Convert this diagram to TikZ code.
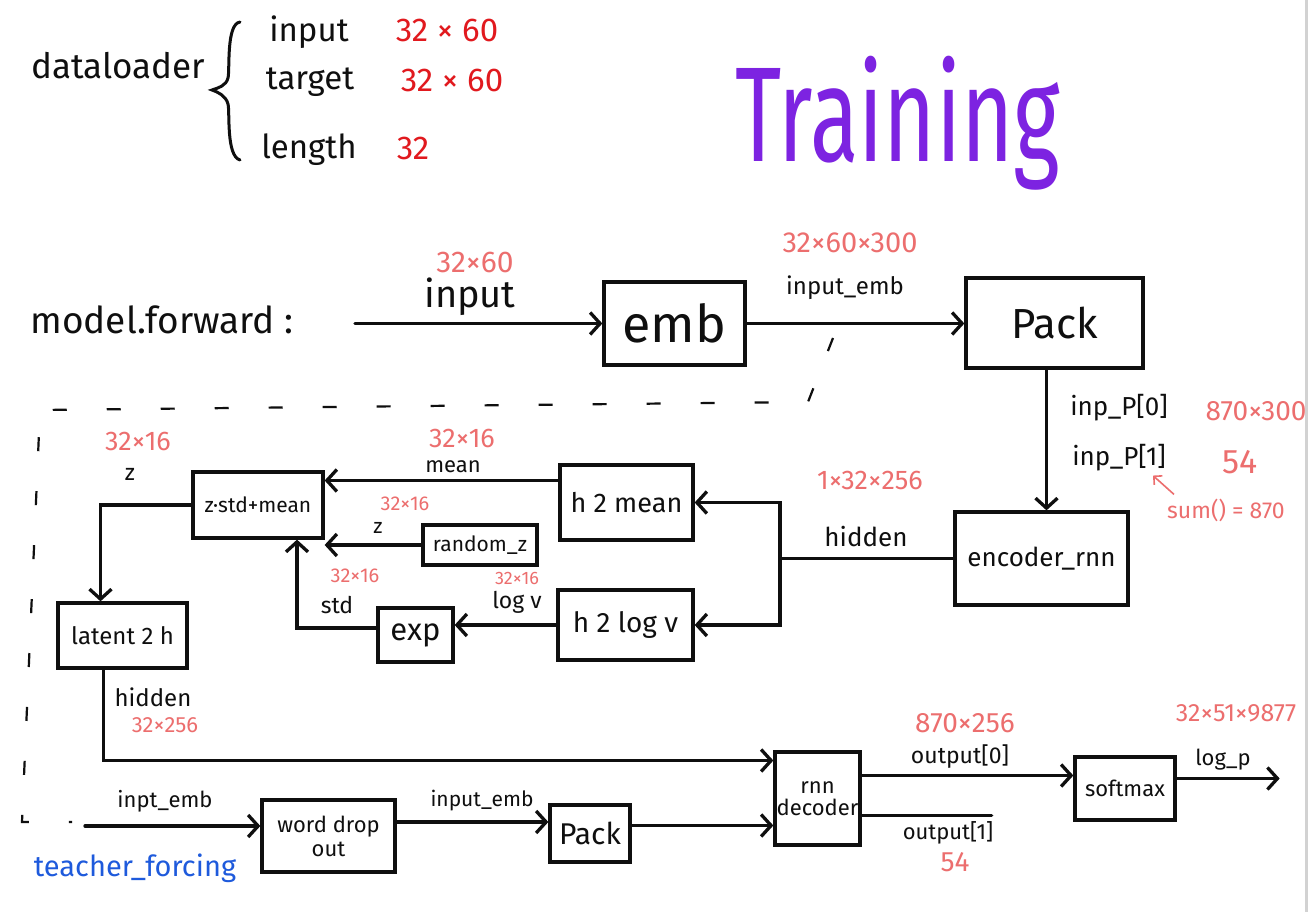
\documentclass[tikz,border=0pt]{standalone}
\usepackage{fontspec}
\setmainfont{Fira Sans}
\usetikzlibrary{arrows.meta}
\definecolor{ink}{RGB}{15,15,15}
\definecolor{dred}{RGB}{225,25,30}
\definecolor{pink}{RGB}{236,110,110}
\definecolor{tfblue}{RGB}{30,90,220}
\definecolor{trpurple}{RGB}{125,35,225}
\newcommand\fsz[1]{\fontsize{#1}{#1}\selectfont}
\tikzset{
  box/.style={draw=ink, line width=3.3pt, inner sep=0pt, align=center, text=ink},
  arr/.style={draw=ink, line width=3.3pt, line cap=round, -{Straight Barb[length=10pt,width=22pt,line width=3.3pt]}},
  ln/.style={draw=ink, line width=3.3pt, line cap=round},
  lab/.style={text=ink, inner sep=0pt},
  rlab/.style={text=pink, inner sep=0pt},
  boundary/.style={draw=ink, line width=2.2pt, dash pattern=on 14pt off 40pt}
}
\begin{document}
\begin{tikzpicture}[x=1pt,y=-1pt]
\fill[white] (0,0) rectangle (1312,912);
\useasboundingbox (0,0) rectangle (1312,912);
\draw[gray!35, line width=3pt] (1306,0) -- (1306,912);

% dataloader
\node[lab] (dl) at (118,66) {\fsz{35}dataloader};
\draw[ln, line width=3pt] (240,22) .. controls (226,24) and (230,70) .. (228,78) .. controls (226,86) and (218,88) .. (212,90)
  .. controls (218,92) and (226,96) .. (228,104) .. controls (230,112) and (226,156) .. (240,160);
\node[lab] (dlin) at (309,32) {\fsz{33}input};
\node[lab] (dlta) at (310,82) {\fsz{33}target};
\node[lab] (dlle) at (309,150) {\fsz{33}length};
\node[text=dred, inner sep=0pt] (dlin2) at (447,30) {\fsz{33}32 × 60};
\node[text=dred, inner sep=0pt] (dlta2) at (452,80) {\fsz{33}32 × 60};
\node[text=dred, inner sep=0pt] (dlle2) at (413,148) {\fsz{33}32};

% title
\node[text=trpurple, inner sep=0pt, anchor=north west] (title) at (735,56) {\resizebox*{325pt}{134pt}{Training}};

% model.forward
\node[lab] (mf) at (162,320) {\fsz{37}model.forward :};

% boxes
\node[box, minimum width=141pt, minimum height=83pt] (emb) at (674.5,323.5) {\fsz{52}emb};
\node[box, minimum width=177pt, minimum height=90pt] (pack) at (1054.5,323) {\fsz{42}Pack};
\node[box, minimum width=173pt, minimum height=93pt] (enc) at (1041.5,558.5) {\fsz{26}encoder\_rnn};
\node[box, minimum width=133pt, minimum height=75pt] (h2m) at (626.5,502.5) {\fsz{27}h 2 mean};
\node[box, minimum width=135pt, minimum height=70pt] (h2v) at (625.5,625) {\fsz{28}h 2 log v};
\node[box, minimum width=114pt, minimum height=40pt] (rz) at (480,545) {\fsz{21}random\_z};
\node[box, minimum width=130pt, minimum height=66pt] (zs) at (258,505) {\fsz{21}z·std+mean};
\node[box, minimum width=75pt, minimum height=54pt] (exp) at (415.5,635) {\fsz{31}exp};
\node[box, minimum width=129pt, minimum height=65pt] (lat) at (122.5,635.5) {\fsz{24}latent 2 h};
\node[box, minimum width=85pt, minimum height=93pt] (rnn) at (817.5,798.5) {\fsz{22}rnn\\[4pt]\fsz{22}decoder};
\node[box, minimum width=133pt, minimum height=72pt] (wdo) at (328.5,836) {\fsz{22}word drop\\[4pt]\fsz{22}out};
\node[box, minimum width=80pt, minimum height=57pt] (pk2) at (590,833.5) {\fsz{30}Pack};
\node[box, minimum width=100pt, minimum height=63pt] (sm) at (1125,788.5) {\fsz{22}softmax};

% input -> emb
\coordinate (inS) at (355,323.5);
\draw[arr] (inS) -- (emb.west);
\node[lab] (inL) at (470,297) {\fsz{38}input};
\node[rlab] (inR) at (475,262) {\fsz{30}32×60};

% emb -> pack
\draw[arr] (emb.east) -- (emb.east -| pack.west);
\node[lab] (ieL) at (845,288) {\fsz{24}input\_emb};
\node[rlab] (ieR) at (850,243) {\fsz{29}32×60×300};

% pack -> encoder
\draw[arr] ([xshift=-8pt]pack.south) -- ([xshift=-8pt]pack.south |- enc.north);
\node[lab] (ip0) at (1119,408) {\fsz{26}inp\_P[0]};
\node[rlab] (ip0R) at (1256,411) {\fsz{28}870×300};
\node[lab] (ip1) at (1119,458) {\fsz{26}inp\_P[1]};
\node[rlab] (ip1R) at (1240,462) {\fsz{34}54};
\node[rlab] (sum) at (1226,510) {\fsz{23}sum() = 870};
\draw[draw=pink, line width=1.6pt, -{Straight Barb[length=6pt,width=12pt,line width=1.6pt]}] ([xshift=-52pt,yshift=4pt]sum.north) -- ([xshift=34pt,yshift=-4pt]ip1.south);

% encoder -> h2mean / h2logv
\coordinate (split) at (780,558.5);
\draw[ln] (enc.west) -- (split);
\draw[arr] (split) |- (h2m.east);
\draw[arr] (split) |- (h2v.east);
\node[lab] (hidL) at (866,537) {\fsz{26}hidden};
\node[rlab] (hidR) at (870,480) {\fsz{27}1×32×256};

% h2mean -> zstd
\draw[arr] ([yshift=22pt]h2m.west) coordinate (m1) -- (m1 -| zs.east);
\node[lab] (meanL) at (453,467) {\fsz{22}mean};
\node[rlab] (meanR) at (462,438) {\fsz{27}32×16};

% random_z -> zstd
\draw[arr] (rz.west) -- (rz.west -| zs.east);
\node[lab] (zL) at (378,528) {\fsz{21}z};
\node[rlab] (zR) at (405,504) {\fsz{20}32×16};

% h2logv -> exp
\draw[arr] (h2v.west) -- (h2v.west -| exp.east);
\node[lab] (lvL) at (517,602) {\fsz{23}log v};
\node[rlab] (lvR) at (517,578) {\fsz{18}32×16};

% exp -> zstd
\draw[arr] ([yshift=7pt]exp.west) -| ([xshift=39pt]zs.south);
\node[lab] (stdL) at (337,605) {\fsz{23}std};
\node[rlab] (stdR) at (355,576) {\fsz{20}32×16};

% zstd -> latent2h
\draw[arr] (zs.west) -| ([xshift=-22pt]lat.north);
\node[lab] (z2L) at (130,474) {\fsz{23}z};
\node[rlab] (z2R) at (138,441) {\fsz{27}32×16};

% latent2h -> rnn decoder
\draw[arr] ([xshift=-19pt]lat.south) |- ([yshift=38pt]rnn.west);
\node[lab] (h2L) at (153,697) {\fsz{24}hidden};
\node[rlab] (h2R) at (165,725) {\fsz{22}32×256};

% teacher forcing input
\coordinate (tfS) at (85,826);
\draw[arr] (tfS) -- (tfS -| wdo.west);
\node[lab] (tfL) at (165,801) {\fsz{22}inpt\_emb};
\node[text=tfblue, inner sep=0pt] (tf) at (135,868) {\fsz{29}teacher\_forcing};

% word drop -> pack2
\draw[arr] ([yshift=14pt]wdo.east) coordinate (w1) -- (w1 -| pk2.west);
\node[lab] (wL) at (482,801) {\fsz{21}input\_emb};

% pack2 -> rnn
\draw[arr] ([yshift=8pt]pk2.east) coordinate (p1) -- (p1 -| rnn.west);

% rnn -> softmax
\draw[arr] ([yshift=23pt]rnn.east) coordinate (r1) -- (r1 -| sm.west);
\node[lab] (o0L) at (960,757) {\fsz{23}output[0]};
\node[rlab] (o0R) at (965,723) {\fsz{28}870×256};

% rnn -> output[1]
\draw[ln] ([yshift=-17pt]rnn.east) -- ++(130,0) coordinate (o1E);
\node[lab] (o1L) at (948,833) {\fsz{22}output[1]};
\node[rlab] (o1R) at (955,862) {\fsz{28}54};

% softmax -> log_p
\draw[arr] ([yshift=10pt]sm.east) -- ++(103,0) coordinate (lpE);
\node[lab] (lpL) at (1223,760) {\fsz{22}log\_p};
\node[rlab] (lpR) at (1236,713) {\fsz{25}32×51×9877};

% dashed boundary of the VAE part
\draw[boundary] (833,338) -- (808,402) -- (40,410) -- (22,822) -- (72,822);
\end{tikzpicture}
\end{document}
